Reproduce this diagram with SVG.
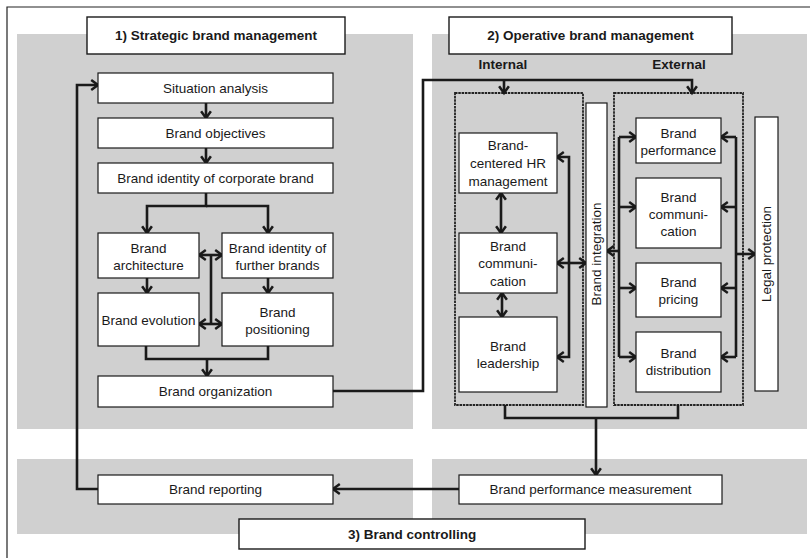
<svg xmlns="http://www.w3.org/2000/svg" width="810" height="558" viewBox="0 0 810 558">
  <style>
    .panel { fill: #d0d0d0; }
    .box { fill: #ffffff; stroke: #1a1a1a; stroke-width: 1.2; }
    .title { fill: #ffffff; stroke: #1a1a1a; stroke-width: 1.4; }
    .group { fill: none; stroke: #222222; stroke-width: 1.8; stroke-dasharray: 2.5 0.8; }
    .frame { fill: none; stroke: #222222; stroke-width: 1.2; }
    text { font-family: "Liberation Sans", Arial, sans-serif; font-size: 13.5px; fill: #1a1a1a; text-anchor: middle; dominant-baseline: central; }
    .bold { font-weight: bold; }
    .conn path { fill: none; stroke: #1a1a1a; stroke-width: 2.6; stroke-linejoin: miter; }
    .conn .arr { marker-end: url(#head); }
    .conn .dbl { marker-start: url(#head); marker-end: url(#head); }
  </style>
  <defs>
    <marker id="head" markerUnits="userSpaceOnUse" markerWidth="13" markerHeight="13" viewBox="0 0 13 13" refX="10" refY="6.5" orient="auto-start-reverse">
      <path d="M3.2,1.6 L10,6.5 L3.2,11.4" fill="none" stroke="#1a1a1a" stroke-width="2.5"/>
    </marker>
  </defs>

  <rect width="810" height="558" fill="#ffffff"/>
  <!-- outer frame -->
  <path class="frame" d="M7,558 V7 H810"/>

  <!-- background panels -->
  <rect class="panel" x="17" y="34" width="396" height="395"/>
  <rect class="panel" x="432" y="34" width="375" height="395"/>
  <rect class="panel" x="17" y="459" width="396" height="75"/>
  <rect class="panel" x="432" y="459" width="375" height="75"/>

  <!-- dashed groupings -->
  <rect id="internal-group" class="group" x="455" y="93" width="128" height="312"/>
  <rect id="external-group" class="group" x="614" y="93" width="129" height="312"/>

  <!-- connectors -->
  <g id="connectors" class="conn">
    <path class="arr" d="M206,103 V118"/>
    <path class="arr" d="M206,148 V163"/>
    <path class="arr" d="M206,193 V206 H147 V233"/>
    <path class="arr" d="M206,206 H268 V233"/>
    <path class="arr" d="M147,278 V293"/>
    <path class="arr" d="M268,278 V293"/>
    <path d="M211,255 V324"/>
    <path class="dbl" d="M199,255 H222"/>
    <path class="dbl" d="M199,324 H222"/>
    <path d="M146,346 V359 H268 V346"/>
    <path class="arr" d="M207,359 V376"/>
    <path class="arr" d="M333,391 H423 V80 H692 V93"/>
    <path class="arr" d="M504,80 V93"/>
    <!-- internal -->
    <path class="dbl" d="M501,193 V233"/>
    <path class="dbl" d="M502,293 V317"/>
    <path class="dbl" d="M557,157 H569 V357 H557"/>
    <path class="dbl" d="M557,263 H586"/>
    <!-- external -->
    <path d="M619,137 V357"/>
    <path class="arr" d="M619,137 H636"/>
    <path class="arr" d="M619,207 H636"/>
    <path class="arr" d="M619,288 H636"/>
    <path class="arr" d="M619,357 H636"/>
    <path class="arr" d="M619,251 H607"/>
    <path d="M736,137 V357"/>
    <path class="arr" d="M736,137 H721"/>
    <path class="arr" d="M736,207 H721"/>
    <path class="arr" d="M736,288 H721"/>
    <path class="arr" d="M736,357 H721"/>
    <path class="arr" d="M736,254 H755"/>
    <!-- controlling -->
    <path d="M505,405 V418 H678 V405"/>
    <path class="arr" d="M596,418 V475"/>
    <path class="arr" d="M459,489 H333"/>
    <path class="arr" d="M98,489 H77 V85 H98"/>
  </g>

  <!-- section titles -->
  <g id="title-strategic">
    <rect class="title" x="87" y="17" width="258" height="37"/>
    <text class="bold" x="216" y="35.5">1) Strategic brand management</text>
  </g>
  <g id="title-operative">
    <rect class="title" x="449" y="17" width="283" height="37"/>
    <text class="bold" x="590.5" y="35.5">2) Operative brand management</text>
  </g>
  <g id="title-controlling">
    <rect class="title" x="239" y="519" width="346" height="30"/>
    <text class="bold" x="412" y="534">3) Brand controlling</text>
  </g>
  <g id="label-internal"><text class="bold" x="503" y="64">Internal</text></g>
  <g id="label-external"><text class="bold" x="679" y="64">External</text></g>

  <!-- strategic brand management -->
  <g id="situation-analysis">
    <rect class="box" x="98" y="73" width="235" height="30"/>
    <text x="215.5" y="88">Situation analysis</text>
  </g>
  <g id="brand-objectives">
    <rect class="box" x="98" y="118" width="235" height="30"/>
    <text x="215.5" y="133">Brand objectives</text>
  </g>
  <g id="brand-identity-corporate">
    <rect class="box" x="98" y="163" width="235" height="30"/>
    <text x="215.5" y="178">Brand identity of corporate brand</text>
  </g>
  <g id="brand-architecture">
    <rect class="box" x="98" y="233" width="101" height="45"/>
    <text x="148.5" y="248">Brand</text>
    <text x="148.5" y="265">architecture</text>
  </g>
  <g id="brand-identity-further">
    <rect class="box" x="222" y="233" width="111" height="45"/>
    <text x="277.5" y="248">Brand identity of</text>
    <text x="277.5" y="265">further brands</text>
  </g>
  <g id="brand-evolution">
    <rect class="box" x="98" y="293" width="101" height="53"/>
    <text x="148.5" y="320">Brand evolution</text>
  </g>
  <g id="brand-positioning">
    <rect class="box" x="222" y="293" width="111" height="53"/>
    <text x="277.5" y="312">Brand</text>
    <text x="277.5" y="329">positioning</text>
  </g>
  <g id="brand-organization">
    <rect class="box" x="98" y="376" width="235" height="31"/>
    <text x="215.5" y="391.5">Brand organization</text>
  </g>

  <!-- operative: internal -->
  <g id="hr-management">
    <rect class="box" x="459" y="133" width="98" height="60"/>
    <text x="508" y="145">Brand-</text>
    <text x="508" y="163">centered HR</text>
    <text x="508" y="181">management</text>
  </g>
  <g id="internal-communication">
    <rect class="box" x="459" y="233" width="98" height="60"/>
    <text x="508" y="246">Brand</text>
    <text x="508" y="263">communi-</text>
    <text x="508" y="281">cation</text>
  </g>
  <g id="brand-leadership">
    <rect class="box" x="459" y="317" width="98" height="75"/>
    <text x="508" y="346">Brand</text>
    <text x="508" y="363">leadership</text>
  </g>
  <g id="brand-integration">
    <rect class="box" x="586" y="103" width="21" height="304"/>
    <text transform="translate(596.5 254) rotate(-90)">Brand integration</text>
  </g>

  <!-- operative: external -->
  <g id="brand-performance">
    <rect class="box" x="636" y="118" width="85" height="45"/>
    <text x="678.5" y="133">Brand</text>
    <text x="678.5" y="150">performance</text>
  </g>
  <g id="external-communication">
    <rect class="box" x="636" y="178" width="85" height="70"/>
    <text x="678.5" y="197">Brand</text>
    <text x="678.5" y="214">communi-</text>
    <text x="678.5" y="231">cation</text>
  </g>
  <g id="brand-pricing">
    <rect class="box" x="636" y="263" width="85" height="54"/>
    <text x="678.5" y="282">Brand</text>
    <text x="678.5" y="299">pricing</text>
  </g>
  <g id="brand-distribution">
    <rect class="box" x="636" y="332" width="85" height="60"/>
    <text x="678.5" y="353">Brand</text>
    <text x="678.5" y="370">distribution</text>
  </g>
  <g id="legal-protection">
    <rect class="box" x="755" y="117" width="23" height="274"/>
    <text transform="translate(766.5 254) rotate(-90)">Legal protection</text>
  </g>

  <!-- brand controlling -->
  <g id="brand-reporting">
    <rect class="box" x="98" y="475" width="235" height="29"/>
    <text x="215.5" y="489.5">Brand reporting</text>
  </g>
  <g id="performance-measurement">
    <rect class="box" x="459" y="475" width="263" height="29"/>
    <text x="590.5" y="489.5">Brand performance measurement</text>
  </g>
</svg>
